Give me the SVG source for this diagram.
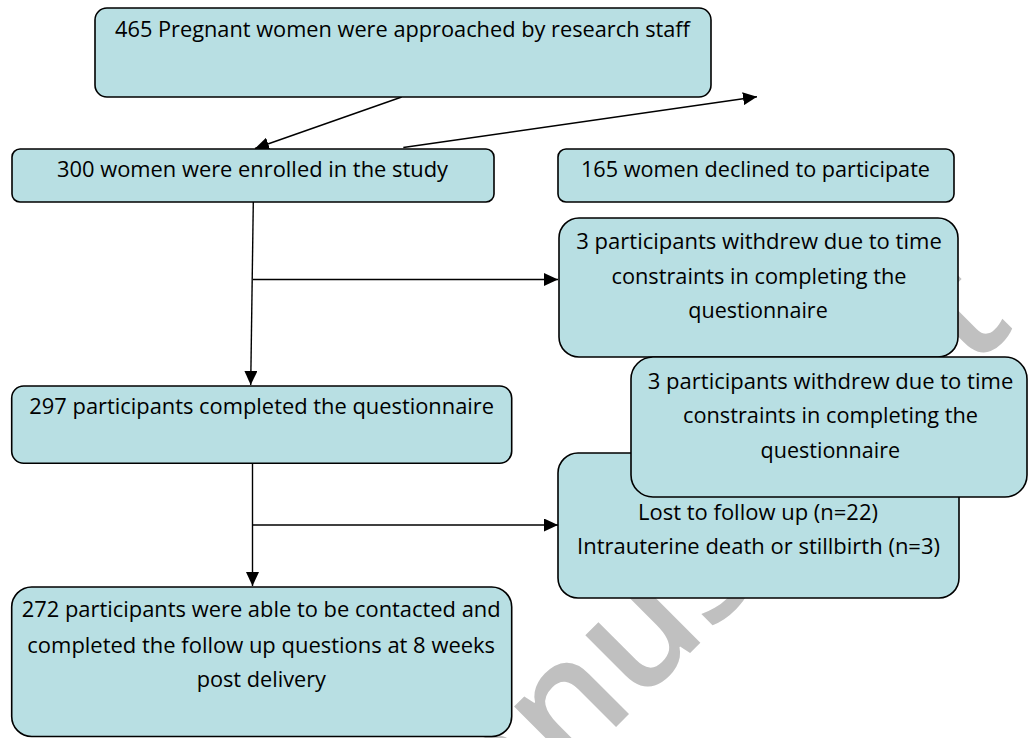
<svg xmlns="http://www.w3.org/2000/svg" width="1029" height="738" viewBox="0 0 1029 738">
<style>
.box{fill:#b8dfe3;stroke:#000;stroke-width:1.6}
.t{font-family:"Open Sans","Noto Sans","Liberation Sans",sans-serif;font-size:22px;fill:#000;text-anchor:middle}
.c{stroke:#000;stroke-width:1.4;fill:none;marker-end:url(#ah)}
.wm{font-family:"Open Sans","Noto Sans",sans-serif;font-size:160px;font-weight:600;fill:#c0c0c0}
</style>
<defs>
<marker id="ah" markerWidth="14" markerHeight="13" refX="14" refY="6.5" orient="auto" markerUnits="userSpaceOnUse">
<path d="M0,0 L14,6.5 L0,13 z" fill="#000"/>
</marker>
</defs>
<rect width="1029" height="738" fill="#fff"/>
<text class="wm" transform="translate(566,777) rotate(-45)"><tspan x="0" y="0" text-anchor="end">Accepted Ma</tspan><tspan x="0" y="0" text-anchor="start">nuscript</tspan></text>
<g id="connectors">
<line class="c" x1="401.7" y1="97" x2="255" y2="148.5"/>
<line class="c" x1="403.3" y1="147.5" x2="757" y2="96.7"/>
<line class="c" x1="253.3" y1="202" x2="250.7" y2="385"/>
<line class="c" x1="253" y1="279.5" x2="558" y2="279.5"/>
<line class="c" x1="252.5" y1="463.5" x2="252.5" y2="586"/>
<line class="c" x1="252.5" y1="525" x2="558" y2="525"/>
</g>
<g id="n1">
<rect class="box" x="95" y="8" width="616" height="89" rx="12"/>
<text class="t" x="402.5" y="36.5" textLength="575" lengthAdjust="spacingAndGlyphs">465 Pregnant women were approached by research staff</text>
</g>
<g id="n2">
<rect class="box" x="12" y="149" width="482" height="53" rx="8"/>
<text class="t" x="252.5" y="177" textLength="391" lengthAdjust="spacingAndGlyphs">300 women were enrolled in the study</text>
</g>
<g id="n3">
<rect class="box" x="558" y="149" width="396" height="53" rx="8"/>
<text class="t" x="755.5" y="177" textLength="349" lengthAdjust="spacingAndGlyphs">165 women declined to participate</text>
</g>
<g id="n4">
<rect class="box" x="559" y="218" width="399" height="139" rx="20"/>
<text class="t" x="759" y="249.3" textLength="365.5" lengthAdjust="spacingAndGlyphs">3 participants withdrew due to time</text>
<text class="t" x="759" y="283.8" textLength="295" lengthAdjust="spacingAndGlyphs">constraints in completing the</text>
<text class="t" x="758" y="318.3" textLength="139.5" lengthAdjust="spacingAndGlyphs">questionnaire</text>
</g>
<g id="n5">
<rect class="box" x="558" y="453" width="401" height="145" rx="20"/>
<text class="t" x="758" y="519.5" textLength="240" lengthAdjust="spacingAndGlyphs">Lost to follow up (n=22)</text>
<text class="t" x="758.5" y="553.8" textLength="363" lengthAdjust="spacingAndGlyphs">Intrauterine death or stillbirth (n=3)</text>
</g>
<g id="n6">
<rect class="box" x="631" y="357" width="396" height="140" rx="22"/>
<text class="t" x="830.5" y="388.5" textLength="365.5" lengthAdjust="spacingAndGlyphs">3 participants withdrew due to time</text>
<text class="t" x="830.5" y="423" textLength="295" lengthAdjust="spacingAndGlyphs">constraints in completing the</text>
<text class="t" x="830.3" y="457.5" textLength="139.5" lengthAdjust="spacingAndGlyphs">questionnaire</text>
</g>
<g id="n7">
<rect class="box" x="11.7" y="386" width="500" height="77.3" rx="12"/>
<text class="t" x="261.7" y="414" textLength="464.7" lengthAdjust="spacingAndGlyphs">297 participants completed the questionnaire</text>
</g>
<g id="n8">
<rect class="box" x="11.7" y="587" width="500" height="149.5" rx="20"/>
<text class="t" x="261.2" y="617.3" textLength="479" lengthAdjust="spacingAndGlyphs">272 participants were able to be contacted and</text>
<text class="t" x="261.2" y="652.5" textLength="467.7" lengthAdjust="spacingAndGlyphs">completed the follow up questions at 8 weeks</text>
<text class="t" x="261.3" y="687.3" textLength="129.3" lengthAdjust="spacingAndGlyphs">post delivery</text>
</g>
</svg>
